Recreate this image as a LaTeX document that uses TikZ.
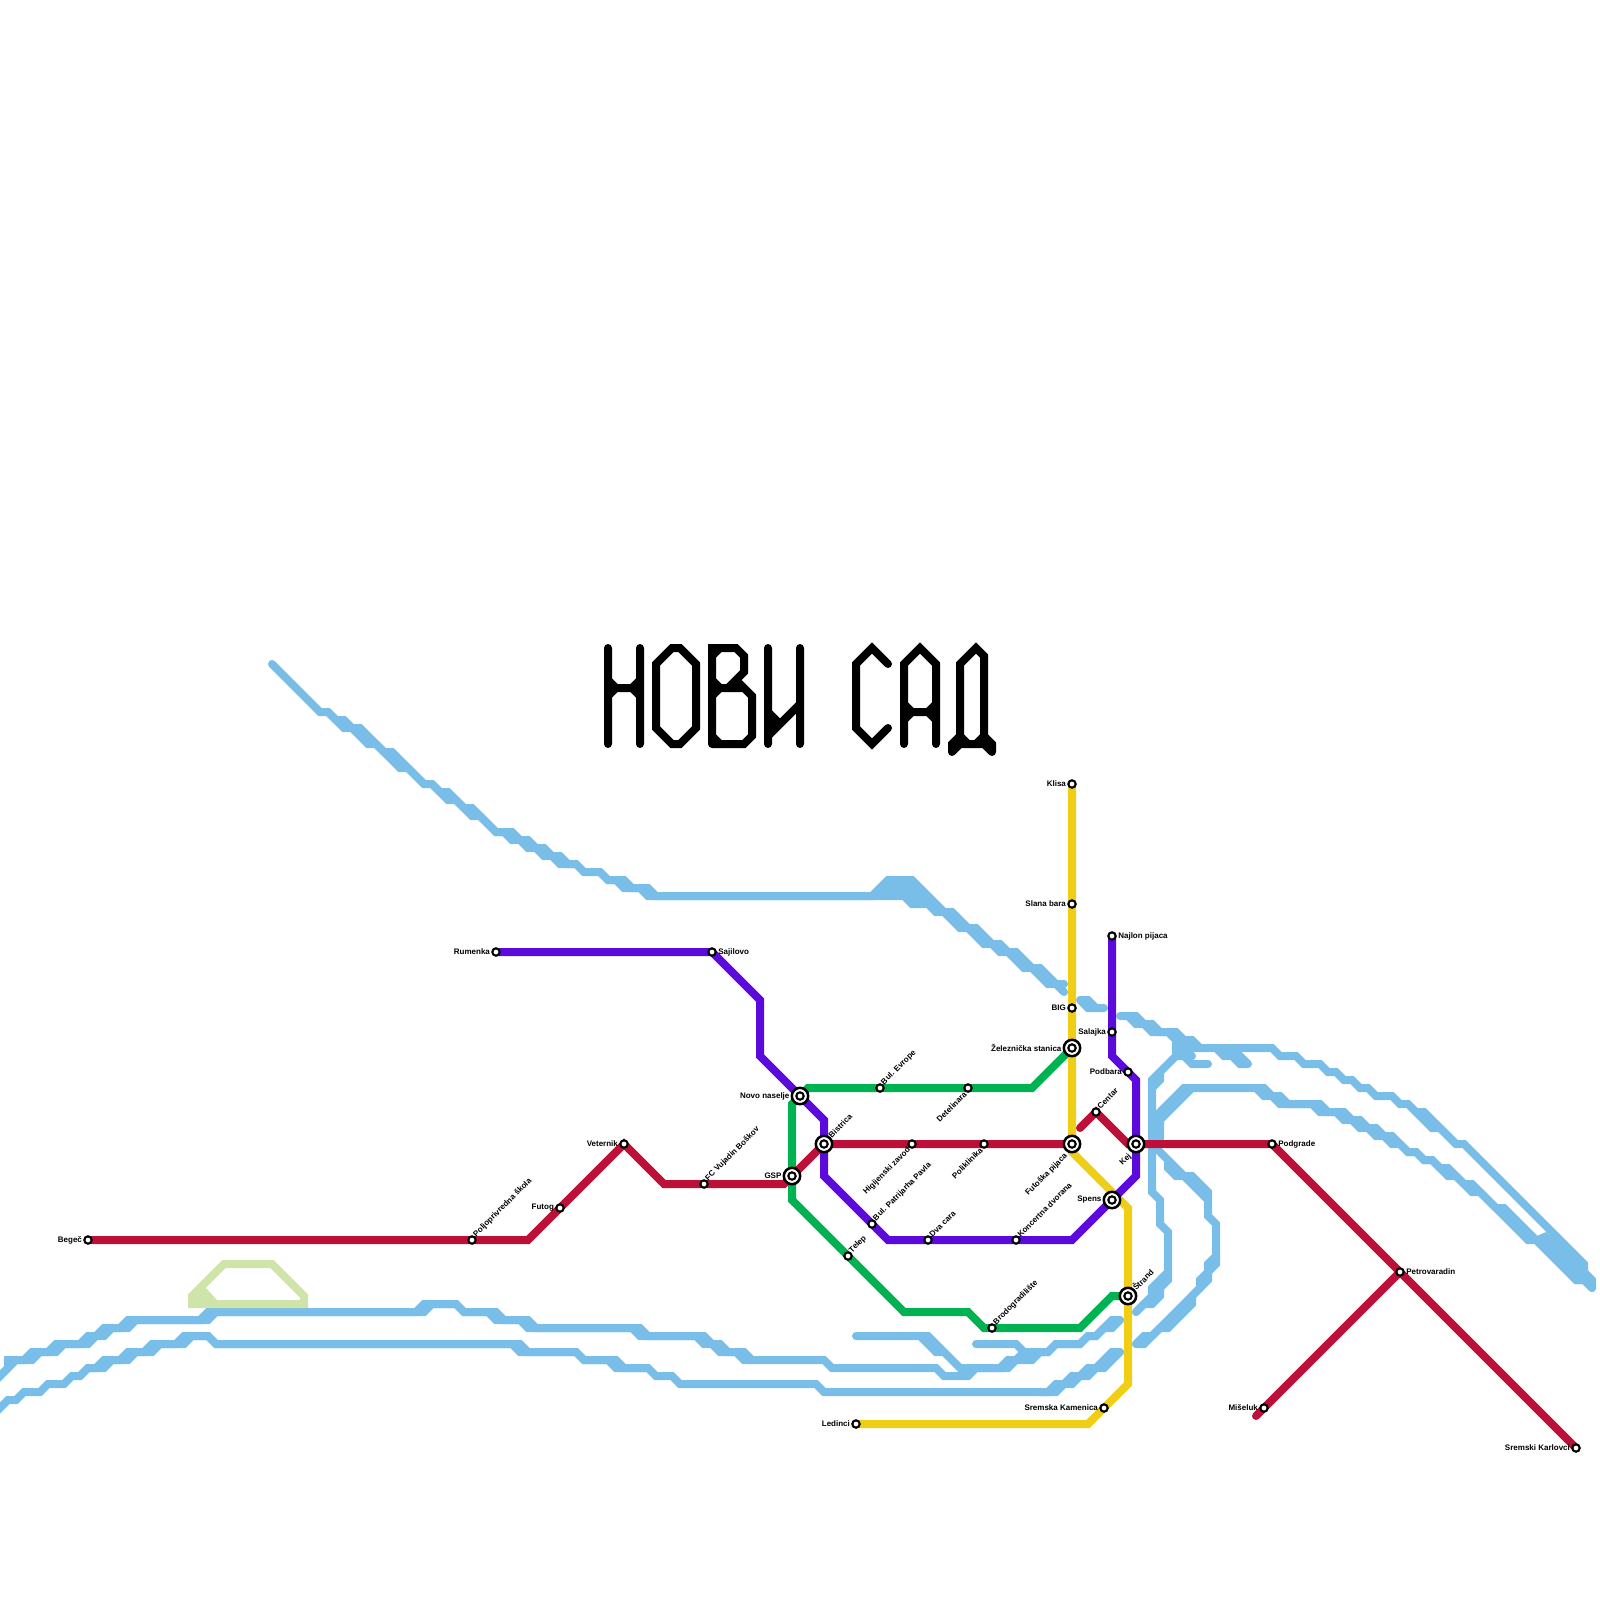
\documentclass[tikz,border=0pt]{standalone}
\usepackage{fontspec}
\setmainfont{Liberation Sans}
\usepackage{xcolor}
\usetikzlibrary{positioning, backgrounds}
\definecolor{riverblue}{HTML}{79BDE9}
\definecolor{parkgreen}{HTML}{CFE4A9}
\definecolor{linered}{HTML}{BD1038}
\definecolor{linegreen}{HTML}{00B251}
\definecolor{linepurple}{HTML}{5B0ADB}
\definecolor{lineyellow}{HTML}{F0CE15}

\begin{document}
\begin{tikzpicture}[
        x=1pt, y=-1pt,
        every node/.style={font=\fontsize{8}{10}\selectfont\bfseries},
        water/.style={draw=riverblue, line width=8pt, line cap=round, line join=miter},
        transit/.style={line width=8pt, line cap=round, line join=miter},
        lettering/.style={draw=black, line width=8pt, line cap=round, line join=miter},
        stop/.style={circle, draw=black, fill=white, line width=2.1pt, minimum size=7.4pt, inner sep=0pt, outer sep=0pt},
        hub/.style={circle, draw=black, fill=white, line width=2.5pt, minimum size=16.4pt, inner sep=0pt, outer sep=0pt},
        tagw/.style={inner sep=0pt, left=2.2pt of #1},
        tage/.style={inner sep=0pt, right=2.4pt of #1},
        tagne/.style={inner sep=0pt, rotate=45, anchor=west, xshift=1.2pt, yshift=1.2pt},
        tagsw/.style={inner sep=0pt, rotate=45, anchor=east, xshift=-1.6pt, yshift=-1.6pt},
      ]

      \useasboundingbox (0,0) rectangle (1600,1600);

      \node[stop] (begec) at (88,1240) {};
      \node[stop] (poljo) at (472,1240) {};
      \node[stop] (futog) at (560,1208) {};
      \node[stop] (veternik) at (624,1144) {};
      \node[stop] (vujadin) at (704,1184) {};
      \node[hub] (gsp) at (792,1176) {};
      \node[stop] (gspin) at (gsp) {};
      \node[hub] (bistrica) at (824,1144) {};
      \node[stop] (bistricain) at (bistrica) {};
      \node[stop] (higijenski) at (912,1144) {};
      \node[stop] (poliklinika) at (984,1144) {};
      \node[hub] (futoska) at (1072,1144) {};
      \node[stop] (futoskain) at (futoska) {};
      \node[stop] (centar) at (1096,1112) {};
      \node[hub] (kej) at (1136,1144) {};
      \node[stop] (kejin) at (kej) {};
      \node[stop] (podgrade) at (1272,1144) {};
      \node[stop] (petrovaradin) at (1400,1272) {};
      \node[stop] (karlovci) at (1576,1448) {};
      \node[stop] (miseluk) at (1264,1408) {};
      \node[stop] (rumenka) at (496,952) {};
      \node[stop] (sajilovo) at (712,952) {};
      \node[hub] (novonaselje) at (800,1096) {};
      \node[stop] (novonaseljein) at (novonaselje) {};
      \node[stop] (patrijarh) at (872,1224) {};
      \node[stop] (dvacara) at (928,1240) {};
      \node[stop] (koncertna) at (1016,1240) {};
      \node[hub] (spens) at (1112,1200) {};
      \node[stop] (spensin) at (spens) {};
      \node[stop] (podbara) at (1128,1072) {};
      \node[stop] (salajka) at (1112,1032) {};
      \node[stop] (najlon) at (1112,936) {};
      \node[stop] (evrope) at (880,1088) {};
      \node[stop] (detelinara) at (968,1088) {};
      \node[hub] (zeleznicka) at (1072,1048) {};
      \node[stop] (zeleznickain) at (zeleznicka) {};
      \node[stop] (telep) at (848,1256) {};
      \node[stop] (brodogradiliste) at (992,1328) {};
      \node[hub] (strand) at (1128,1296) {};
      \node[stop] (strandin) at (strand) {};
      \node[stop] (klisa) at (1072,784) {};
      \node[stop] (slanabara) at (1072,904) {};
      \node[stop] (big) at (1072,1008) {};
      \node[stop] (kamenica) at (1104,1408) {};
      \node[stop] (ledinci) at (856,1424) {};

      \node[tagw=begec] (tbegec) {Begeč};
      \node[tagw=rumenka] (trumenka) {Rumenka};
      \node[tagw=futog] (tfutog) {Futog};
      \node[tagw=veternik] (tveternik) {Veternik};
      \node[tagw=gsp] (tgsp) {GSP};
      \node[tagw=novonaselje] (tnovonaselje) {Novo naselje};
      \node[tagw=zeleznicka] (tzeleznicka) {Železnička stanica};
      \node[tagw=klisa] (tklisa) {Klisa};
      \node[tagw=slanabara] (tslanabara) {Slana bara};
      \node[tagw=big] (tbig) {BIG};
      \node[tagw=salajka] (tsalajka) {Salajka};
      \node[tagw=podbara] (tpodbara) {Podbara};
      \node[tagw=spens] (tspens) {Spens};
      \node[tagw=kamenica] (tkamenica) {Sremska Kamenica};
      \node[tagw=ledinci] (tledinci) {Ledinci};
      \node[tagw=miseluk] (tmiseluk) {Mišeluk};
      \node[tagw=karlovci] (tkarlovci) {Sremski Karlovci};
      \node[tage=sajilovo] (tsajilovo) {Sajilovo};
      \node[tage=najlon] (tnajlon) {Najlon pijaca};
      \node[tage=podgrade] (tpodgrade) {Podgrade};
      \node[tage=petrovaradin] (tpetrovaradin) {Petrovaradin};
      \node[tagne] (tpoljo) at (poljo.45) {Poljoprivredna škola};
      \node[tagne] (tvujadin) at (vujadin.45) {FC Vujadin Boškov};
      \node[tagne] (tbistrica) at (bistrica.45) {Bistrica};
      \node[tagne] (tevrope) at (evrope.45) {Bul. Evrope};
      \node[tagne] (ttelep) at (telep.45) {Telep};
      \node[tagne] (tpatrijarh) at (patrijarh.45) {Bul. Patrijarha Pavla};
      \node[tagne] (tdvacara) at (dvacara.45) {Dva cara};
      \node[tagne] (tkoncertna) at (koncertna.45) {Koncertna dvorana};
      \node[tagne] (tbrodogradiliste) at (brodogradiliste.45) {Brodogradilište};
      \node[tagne] (tcentar) at (centar.45) {Centar};
      \node[tagne] (tstrand) at (strand.45) {Štrand};
      \node[tagsw] (tdetelinara) at (detelinara.225) {Detelinara};
      \node[tagsw] (thigijenski) at (higijenski.225) {Higijenski zavod};
      \node[tagsw] (tpoliklinika) at (poliklinika.225) {Poliklinika};
      \node[tagsw, xshift=-2pt, yshift=-2pt] (tfutoska) at (futoska.225) {Futoška pijaca};
      \node[tagsw, xshift=-2pt, yshift=-2pt] (tkej) at (kej.225) {Kej};

      \begin{scope}[on background layer]
        \draw[water] (272,664) -- (320,712) -- (328,712) -- (336,720) -- (344,720) -- (352,728) -- (360,728) -- (384,752) -- (392,752) -- (424,784) -- (432,784) -- (440,792) -- (448,792) -- (464,808) -- (472,808) -- (496,832) -- (512,832) -- (520,840) -- (528,840) -- (536,848) -- (544,848) -- (552,856) -- (560,856) -- (568,864) -- (576,864) -- (584,872) -- (600,872) -- (608,880) -- (624,880) -- (632,888) -- (648,888) -- (656,896) -- (872,896) -- (888,880) -- (912,880) -- (944,912) -- (952,912) -- (968,928) -- (976,928) -- (992,944) -- (1000,944) -- (1008,952) -- (1016,952) -- (1032,968) -- (1040,968) -- (1056,984) -- (1064,984);
        \draw[water] (328,712) -- (344,728) -- (352,728) -- (368,744) -- (376,744) -- (400,768) -- (408,768) -- (424,784) (432,784) -- (448,800) -- (456,800) -- (472,816) -- (480,816) -- (496,832) -- (504,832) -- (512,840) -- (520,840) -- (528,848) -- (536,848) -- (544,856) -- (552,856) -- (560,864) -- (576,864) (600,872) -- (608,880) -- (616,880) -- (624,888) -- (640,888) -- (648,896) -- (904,896) -- (912,904) -- (928,904) -- (936,912) -- (944,912) -- (960,928) -- (968,928) -- (984,944) -- (992,944) -- (1000,952) -- (1008,952) -- (1024,968) -- (1032,968) -- (1048,984) -- (1056,984) -- (1064,992);
        \draw[water] (880,888) -- (920,888) (896,896) -- (928,896) (912,904) -- (936,904);
        \draw[water] (1080,1000) -- (1088,1000) -- (1096,1008) -- (1104,1008) (1080,1000) -- (1088,1008) -- (1104,1008);

        \draw[water] (1120,1016) -- (1136,1016) -- (1144,1024) -- (1152,1024) -- (1160,1032) -- (1176,1032) -- (1184,1040) -- (1192,1040) -- (1200,1048) -- (1272,1048) -- (1280,1056) -- (1296,1056) -- (1304,1064) -- (1320,1064) -- (1328,1072) -- (1336,1072) -- (1344,1080) -- (1352,1080) -- (1360,1088) -- (1368,1088) -- (1376,1096) -- (1392,1096) -- (1400,1104) -- (1408,1104) -- (1416,1112) -- (1424,1112) -- (1456,1144) -- (1464,1144) -- (1584,1264) -- (1584,1272) -- (1592,1280) -- (1592,1288);
        \draw[water] (1416,1112) -- (1432,1128) -- (1440,1128) -- (1456,1144) (1584,1280) -- (1592,1288);
        \draw[water] (1128,1016) -- (1136,1024) -- (1144,1024) -- (1152,1032) -- (1168,1032) -- (1176,1040) -- (1176,1056) -- (1168,1064) -- (1152,1080) -- (1152,1192) -- (1160,1200) -- (1160,1224) -- (1168,1232) -- (1168,1280) -- (1160,1288) -- (1160,1296) -- (1152,1304) -- (1144,1304) -- (1136,1312);
        \draw[water] (1168,1272) -- (1152,1288) -- (1152,1296) -- (1136,1312);
        \draw[water] (1160,1072) -- (1160,1080) -- (1152,1088);
        \draw[water] (1176,1040) -- (1192,1040) (1176,1048) -- (1200,1048) (1176,1056) -- (1192,1056) (1184,1056) -- (1192,1064) -- (1208,1064);
        \draw[water] (1216,1048) -- (1224,1056) -- (1232,1056) -- (1240,1064) -- (1248,1064) (1232,1048) -- (1248,1064);
        \draw[water] (1152,1120) -- (1184,1088) -- (1264,1088) -- (1272,1096) -- (1280,1096) -- (1288,1104) -- (1320,1104) -- (1328,1112) -- (1344,1112) -- (1352,1120) -- (1360,1120) -- (1368,1128) -- (1376,1128) -- (1384,1136) -- (1392,1136) -- (1408,1152) -- (1416,1152) -- (1424,1160) -- (1432,1160) -- (1448,1176) -- (1456,1176) -- (1472,1192) -- (1480,1192) -- (1496,1208) -- (1504,1208) -- (1536,1240);
        \draw[water] (1256,1088) -- (1264,1096) -- (1272,1096) -- (1280,1104) -- (1312,1104) -- (1320,1112) -- (1336,1112) -- (1344,1120) -- (1352,1120) -- (1360,1128) -- (1368,1128) -- (1376,1136) -- (1384,1136) -- (1392,1144) -- (1400,1144) -- (1408,1152) -- (1416,1152) -- (1424,1160) -- (1432,1160) -- (1440,1168) -- (1448,1168) -- (1464,1184) -- (1472,1184) -- (1480,1192) -- (1528,1240) -- (1536,1240) -- (1576,1280) -- (1584,1280);
        \fill[riverblue] (1537,1236) -- (1546,1232) -- (1588,1270) -- (1588,1284) -- (1575,1284) -- cycle;
        \draw[water] (1160,1120) -- (1192,1088) (1160,1120) -- (1160,1144);
        \draw[water] (1152,1144) -- (1184,1176) -- (1192,1176) -- (1208,1192) -- (1208,1216) -- (1216,1224) -- (1216,1256) -- (1208,1264) -- (1208,1272) -- (1200,1280) -- (1200,1288) -- (1152,1336) -- (1144,1336) -- (1136,1344);
        \draw[water] (1168,1160) -- (1168,1168) -- (1176,1176) -- (1184,1176) -- (1208,1200) (1216,1256) -- (1216,1264) -- (1208,1272) -- (1208,1280) -- (1192,1296) -- (1192,1304) -- (1168,1328) -- (1160,1328) -- (1144,1344) -- (1136,1344);

        \draw[water] (-8,1384) -- (8,1368) -- (8,1360) -- (24,1360) -- (32,1352) -- (48,1352) -- (56,1344) -- (80,1344) -- (88,1336) -- (96,1336) -- (104,1328) -- (120,1328) -- (128,1320) -- (200,1320) -- (208,1312) -- (416,1312) -- (424,1304) -- (456,1304) -- (464,1312) -- (496,1312) -- (504,1320) -- (528,1320) -- (536,1328) -- (640,1328) -- (648,1336) -- (704,1336) -- (712,1344) -- (720,1344) -- (728,1352) -- (744,1352) -- (752,1360) -- (824,1360) -- (832,1368) -- (936,1368) -- (944,1376) -- (968,1376) -- (976,1368) -- (1008,1368) -- (1016,1360) -- (1032,1360) -- (1040,1352) -- (1048,1352) -- (1056,1344) -- (1080,1344) -- (1088,1336) -- (1096,1336) -- (1104,1328) -- (1112,1328) -- (1120,1320);
        \draw[water] (-8,1384) -- (16,1360) -- (32,1360) -- (40,1352) -- (56,1352) -- (64,1344) -- (88,1344) -- (96,1336) -- (104,1336) -- (112,1328) -- (128,1328) -- (136,1320) -- (208,1320) -- (216,1312) -- (424,1312) -- (432,1304) -- (456,1304) -- (464,1312) -- (488,1312) -- (496,1320) -- (520,1320) -- (528,1328) -- (632,1328) -- (640,1336) -- (696,1336) -- (704,1344) -- (712,1344) -- (720,1352) -- (736,1352) -- (744,1360) -- (752,1360);
        \draw[water] (856,1336) -- (928,1336) -- (960,1368) -- (1000,1368) -- (1008,1360) -- (1016,1360) -- (1024,1352);
        \draw[water] (920,1336) -- (936,1352) -- (944,1352);
        \draw[water] (976,1344) -- (1016,1344) -- (1024,1352) -- (1048,1352) -- (1056,1344) -- (1080,1344) -- (1088,1336) -- (1096,1336) -- (1112,1320) -- (1120,1320);

        \draw[water] (-8,1416) -- (8,1400) -- (16,1400) -- (24,1392) -- (40,1392) -- (48,1384) -- (64,1384) -- (72,1376) -- (80,1376) -- (88,1368) -- (96,1368) -- (104,1360) -- (120,1360) -- (128,1352) -- (144,1352) -- (152,1344) -- (176,1344) -- (184,1336) -- (208,1336) -- (216,1344) -- (512,1344) -- (520,1352) -- (576,1352) -- (584,1360) -- (616,1360) -- (624,1368) -- (648,1368) -- (656,1376) -- (672,1376) -- (680,1384) -- (816,1384) -- (824,1392) -- (1048,1392) -- (1056,1384) -- (1064,1384) -- (1072,1376) -- (1080,1376) -- (1088,1368) -- (1096,1368) -- (1112,1352) -- (1120,1352);
        \draw[water] (80,1376) -- (88,1368) -- (104,1368) -- (112,1360) -- (128,1360) -- (136,1352) -- (152,1352) -- (160,1344) -- (184,1344) -- (192,1336) -- (208,1336) -- (216,1344) -- (520,1344) -- (528,1352) -- (576,1352) -- (584,1360) -- (608,1360) -- (616,1368) -- (648,1368);
        \draw[water] (1040,1392) -- (1056,1392) -- (1064,1384) -- (1072,1384) -- (1080,1376) -- (1088,1376) -- (1096,1368) -- (1104,1368) -- (1120,1352);

        \draw[draw=parkgreen, line width=8pt, line join=miter] (192,1296) -- (224,1264) -- (272,1264) -- (304,1296) -- (304,1304) -- (192,1304) -- cycle;
        \fill[parkgreen] (192,1296) -- (206,1288) -- (217,1300) -- (192,1304) -- cycle;

        \draw[transit, linegreen] (novonaselje.center) -- (808,1088) -- (evrope.center) -- (detelinara.center) -- (1032,1088) -- (zeleznicka.center);
        \draw[transit, linegreen] (novonaselje.center) -- (792,1104) -- (gsp.center) -- (792,1200) -- (telep.center) -- (904,1312) -- (968,1312) -- (984,1328) -- (brodogradiliste.center) -- (1080,1328) -- (1112,1296) -- (strand.center);
        \draw[transit, lineyellow] (klisa.center) -- (slanabara.center) -- (big.center) -- (zeleznicka.center) -- (futoska.center) -- (1072,1152) -- (1128,1208) -- (strand.center) -- (1128,1384) -- (kamenica.center) -- (1088,1424) -- (ledinci.center);
        \draw[transit, linepurple] (rumenka.center) -- (sajilovo.center) -- (760,1000) -- (760,1056) -- (novonaselje.center) -- (824,1120) -- (bistrica.center) -- (824,1176) -- (patrijarh.center) -- (888,1240) -- (dvacara.center) -- (koncertna.center) -- (1072,1240) -- (spens.center) -- (1136,1176) -- (kej.center) -- (1136,1080) -- (podbara.center) -- (1112,1056) -- (salajka.center) -- (najlon.center);
        \draw[transit, linered] (begec.center) -- (poljo.center) -- (528,1240) -- (futog.center) -- (veternik.center) -- (664,1184) -- (vujadin.center) -- (784,1184) -- (gsp.center) -- (bistrica.center) -- (higijenski.center) -- (poliklinika.center) -- (futoska.center);
        \draw[transit, linered] (1080,1128) -- (centar.center) -- (1128,1144) -- (kej.center) -- (podgrade.center) -- (petrovaradin.center) -- (karlovci.center);
        \draw[transit, linered] (1256,1416) -- (miseluk.center) -- (petrovaradin.center);
      \end{scope}

      \draw[lettering] (608,648) -- (608,744) (640,648) -- (640,744) (608,680) -- (616,688) -- (632,688) -- (640,680) (608,696) -- (616,688) (632,688) -- (640,696);
      \draw[lettering] (656,664) -- (672,648) -- (680,648) -- (696,664) -- (696,728) -- (680,744) -- (672,744) -- (656,728) -- cycle;
      \draw[lettering] (712,744) -- (712,648) -- (736,648) -- (744,656) -- (744,672) -- (728,688) (712,688) -- (744,688) (736,680) -- (752,696) -- (752,736) -- (744,744) -- (712,744) (712,656) -- (720,648) (712,680) -- (720,688) -- (712,696) (712,736) -- (720,744);
      \draw[lettering] (768,648) -- (768,744) (800,648) -- (800,744) (768,736) -- (800,704) (768,712) -- (776,720) -- (768,728);
      \draw[lettering] (888,664) -- (872,648) -- (856,664) -- (856,728) -- (872,744) -- (888,728);
      \draw[lettering] (904,744) -- (904,664) -- (920,648) -- (936,664) -- (936,744) (904,704) -- (912,712) -- (928,712) -- (936,704) (904,720) -- (912,712) (928,712) -- (936,720);
      \draw[lettering] (952,752) -- (952,744) -- (960,736) -- (960,664) -- (976,648) -- (984,656) -- (984,736) -- (992,744) -- (992,752) (952,752) -- (960,744) -- (984,744) -- (992,752) (960,736) -- (968,744) (984,736) -- (976,744);

    \end{tikzpicture}
\end{document}
